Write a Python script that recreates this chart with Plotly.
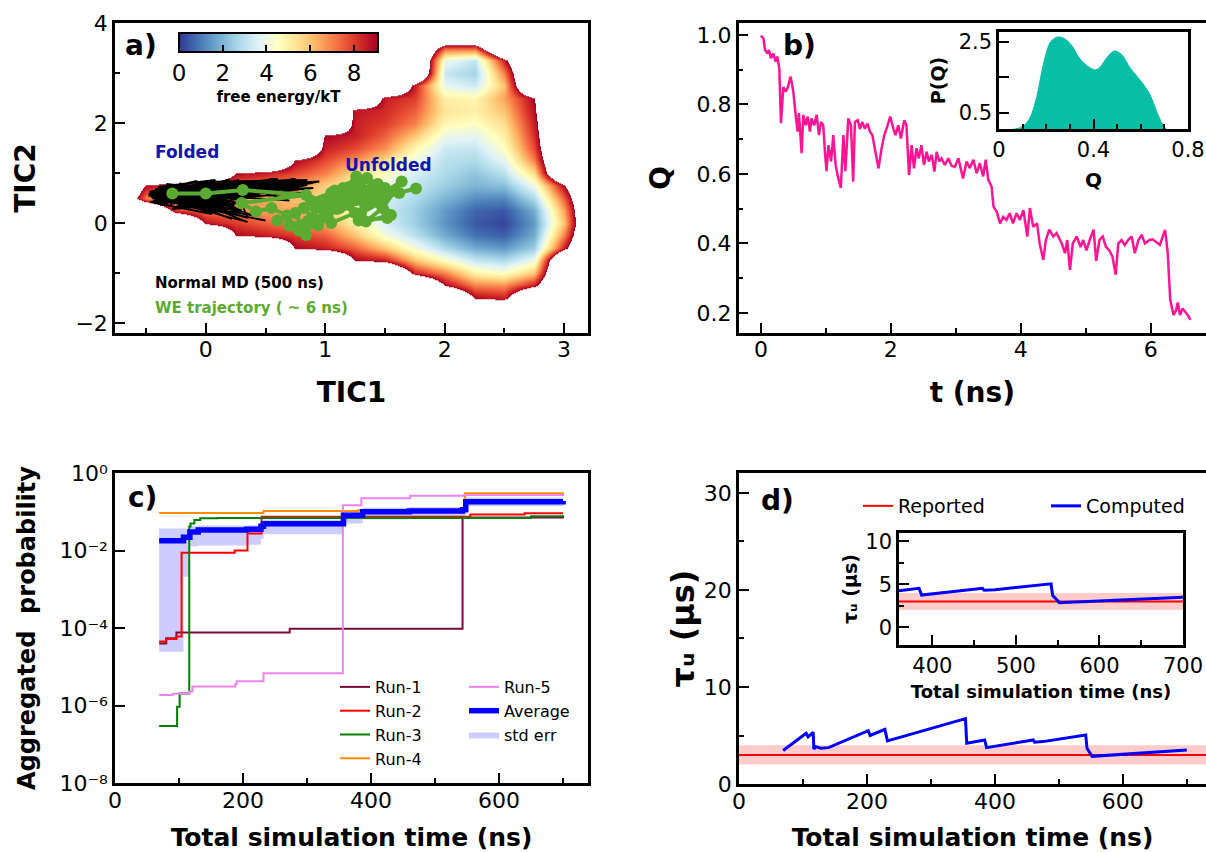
import plotly.graph_objects as go

W, H = 1206, 852
FONT = "DejaVu Sans"

# ---------------- panel a: free-energy landscape (kT) -------------
N = None
fe_x = [-0.75, -0.5, -0.25, 0, 0.25, 0.5, 0.75, 1.0, 1.25, 1.5, 1.75, 2.0, 2.25, 2.5, 2.75, 3.0, 3.25]
fe_y_desc = [3.75, 3.5, 3.25, 3.0, 2.75, 2.5, 2.25, 2.0, 1.75, 1.5, 1.25, 1.0, 0.75, 0.5,
             0.25, 0.0, -0.25, -0.5, -0.75, -1.0, -1.25, -1.5, -1.75]
fe_rows = [
    [N]*17,
    [N, N, N, N, N, N, N, N, N, N, N, 7.5, 7.5, N, N, N, N],
    [N, N, N, N, N, N, N, N, N, N, N, 4.0, 3.2, 8.5, N, N, N],
    [N, N, N, N, N, N, N, N, N, N, N, 3.2, 2.6, 7.0, N, N, N],
    [N, N, N, N, N, N, N, N, N, N, 8.5, 3.8, 3.3, 6.0, N, N, N],
    [N, N, N, N, N, N, N, N, N, 8.5, 8.0, 5.0, 4.8, 6.5, 9.0, N, N],
    [N, N, N, N, N, N, N, N, 8.7, 8.3, 7.5, 5.3, 5.0, 6.0, 8.8, N, N],
    [N, N, N, N, N, N, N, N, 8.5, 8.0, 7.0, 4.8, 4.5, 5.5, 8.5, N, N],
    [N, N, N, N, N, N, N, 9.0, 8.5, 7.5, 6.0, 4.0, 3.8, 5.0, 8.2, N, N],
    [N, N, N, N, N, N, N, 8.5, 7.8, 6.8, 4.8, 3.3, 3.2, 4.5, 7.8, N, N],
    [N, N, N, N, N, N, 9.0, 7.8, 6.8, 5.5, 4.0, 3.0, 2.8, 3.8, 7.0, N, N],
    [N, N, N, N, 9.0, 8.5, 7.8, 7.0, 5.5, 4.5, 3.5, 2.8, 2.3, 3.0, 5.5, N, N],
    [N, 9.0, 8.2, 7.8, 7.3, 7.2, 6.8, 5.8, 5.0, 4.0, 3.2, 2.5, 2.0, 2.2, 4.0, 9.0, N],
    [N, 7.0, 6.0, 6.5, 6.5, 6.5, 6.0, 5.5, 4.5, 3.5, 2.8, 2.0, 1.3, 1.2, 2.8, 7.5, N],
    [N, N, 8.0, 7.2, 7.0, 6.5, 6.5, 5.8, 4.5, 3.3, 2.5, 1.5, 0.7, 0.5, 1.8, 6.5, N],
    [N, N, N, 8.8, 8.0, 7.5, 7.0, 6.5, 5.0, 3.5, 2.5, 1.4, 0.5, 0.2, 1.5, 6.0, N],
    [N, N, N, N, 9.0, 8.5, 8.0, 7.5, 6.0, 4.2, 3.0, 1.8, 0.9, 0.6, 1.8, 7.0, N],
    [N, N, N, N, N, N, 9.0, 8.5, 7.5, 6.0, 4.2, 2.8, 1.8, 1.5, 2.5, 8.5, N],
    [N, N, N, N, N, N, N, N, 9.0, 8.5, 6.0, 4.5, 3.2, 2.8, 4.0, N, N],
    [N, N, N, N, N, N, N, N, N, N, 8.5, 7.0, 5.0, 4.5, 6.0, N, N],
    [N, N, N, N, N, N, N, N, N, N, N, 9.0, 7.0, 6.8, 8.5, N, N],
    [N, N, N, N, N, N, N, N, N, N, N, N, 9.0, 8.5, N, N, N],
    [N]*17,
]
fe_max = 9.1

md_x = [-0.45, -0.2, -0.38, 0.05, -0.3, 0.2, -0.42, 0.1, -0.25, 0.35, -0.35, 0.0, -0.48, 0.15, -0.1,
        0.45, -0.3, 0.3, -0.2, 0.6, -0.4, 0.25, -0.15, 0.75, -0.05, 0.5, -0.45, 0.2, 0.0, 0.9, 0.1,
        -0.35, 0.4, -0.2, 0.65, -0.38, 0.3, -0.28, 0.05, 0.8, -0.1, 0.35, -0.45, 0.15, -0.3, 0.55,
        0.0, 0.3, -0.4, 0.1, 0.45, -0.15, 0.2, 0.7, -0.25, 0.05, -0.46, 0.25, 0.35, -0.3,
        -0.47, -0.1, -0.4, 0.12, -0.33, 0.28, -0.44, -0.05, -0.22, 0.18, -0.36, 0.08, -0.15, 0.42,
        -0.48, 0.0, -0.27, 0.22, -0.39, 0.85, -0.12, 0.05, -0.43, 0.3, -0.2, 0.65, -0.34, 0.1, -0.47,
        -0.08, 0.25, -0.3, 0.15, -0.42, 0.32, -0.18, 0.55, -0.37, 0.02, -0.25,
        -0.44, 0.6, -0.3, 0.9, -0.2, 0.05, -0.46, 0.5, -0.1, 0.75, -0.35, 0.2, -0.25, 0.62, -0.42,
        0.12, -0.05, 0.85, -0.38, 0.28, -0.15, 0.7, -0.45, 0.18, 0.4, -0.3, 0.95, -0.22, 0.08, -0.4,
        0.33, -0.12, 0.58, -0.36, 0.22, -0.28, 0.48, -0.47, 0.1, -0.2]
md_y = [0.50, 0.62, 0.35, 0.70, 0.55, 0.45, 0.60, 0.80, 0.30, 0.65, 0.48, 0.25, 0.55, 0.72, 0.40,
        0.78, 0.68, 0.20, 0.58, 0.85, 0.40, 0.55, 0.75, 0.80, 0.30, 0.05, 0.50, 0.35, 0.62, 0.70,
        0.50, 0.45, 0.15, 0.65, 0.82, 0.58, 0.40, 0.28, 0.72, 0.60, 0.45, 0.02, 0.52, 0.60, 0.38,
        0.75, 0.55, 0.25, 0.48, 0.68, 0.55, 0.32, 0.80, 0.45, 0.60, 0.18, 0.42, 0.70, 0.10, 0.52,
        0.56, 0.72, 0.66, 0.52, 0.78, 0.62, 0.44, 0.56, 0.80, 0.40, 0.64, 0.82, 0.48, 0.68, 0.58,
        0.36, 0.74, 0.50, 0.70, 0.76, 0.38, 0.66, 0.60, 0.78, 0.46, 0.72, 0.54, 0.42, 0.62, 0.84,
        0.30, 0.68, 0.56, 0.50, 0.74, 0.58, 0.80, 0.46, 0.64, 0.70,
        0.62, 0.88, 0.50, 0.80, 0.70, 0.86, 0.52, 0.84, 0.64, 0.88, 0.42, 0.88, 0.56, 0.76, 0.68,
        0.30, 0.82, 0.86, 0.46, 0.86, 0.62, 0.84, 0.58, 0.26, 0.70, 0.66, 0.83, 0.40, 0.86, 0.72,
        0.80, 0.52, 0.88, 0.62, 0.08, 0.48, 0.82, 0.60, 0.76, 0.66]

we_x = [-0.28, 0.0, 0.31, 0.84, 0.30, 0.42, 0.55, 0.68, 0.60, 0.75, 0.84, 0.70, 0.90, 0.82, 1.00,
        0.95, 1.10, 0.88, 1.05, 1.20, 1.00, 1.15, 1.30, 1.12, 1.25, 1.40, 1.22, 1.35, 1.50, 1.30,
        1.46, 1.26, 1.40, 1.55, 1.34, 1.48, 1.64, 1.45, 1.58, 1.62, 1.40, 1.52, 1.28, 1.18, 1.36,
        1.08, 0.98, 1.22, 1.44, 1.30, 1.12, 0.92, 1.05, 1.25, 1.15, 1.38, 1.50, 1.20, 1.02, 0.86,
        0.78, 0.94, 1.10, 1.32, 1.76]
we_y = [0.59, 0.59, 0.66, 0.56, 0.40, 0.23, 0.30, 0.15, 0.05, 0.20, -0.24, -0.05, 0.10, 0.30, 0.25,
        0.05, 0.35, 0.45, 0.60, 0.40, 0.15, 0.70, 0.55, 0.30, 0.80, 0.60, 0.50, 0.90, 0.70, 0.20,
        0.40, 0.93, 0.75, 0.16, 0.03, 0.30, 0.83, 0.55, 0.65, 0.60, 0.45, 0.10, 0.05, 0.50, 0.38,
        0.65, 0.45, 0.62, 0.78, 0.85, 0.55, 0.30, 0.00, 0.20, 0.35, 0.50, 0.55, 0.72, 0.12, 0.05,
        -0.15, -0.05, 0.28, 0.42, 0.69]

# ---------------- panel b: Q(t) and P(Q) ----------------
t_ns = [0.00, 0.04, 0.063, 0.104, 0.124, 0.155, 0.19, 0.227, 0.253, 0.283, 0.309, 0.345, 0.38, 0.41,
        0.458, 0.499, 0.535, 0.565, 0.585, 0.627, 0.652, 0.688, 0.72, 0.755, 0.78, 0.82, 0.858, 0.893,
        0.925, 0.96, 0.985, 1.01, 1.04, 1.08, 1.114, 1.15, 1.19, 1.23, 1.27, 1.30, 1.345, 1.386, 1.42,
        1.447, 1.49, 1.525, 1.56, 1.60, 1.64, 1.678, 1.715, 1.756, 1.81, 1.858, 1.90, 1.95, 1.99, 2.04,
        2.07, 2.114, 2.155, 2.206, 2.24, 2.28, 2.32, 2.355, 2.395, 2.43, 2.47, 2.51, 2.55, 2.585, 2.63,
        2.67, 2.705, 2.745, 2.78, 2.83, 2.885, 2.935, 2.986, 3.04, 3.11, 3.165, 3.216, 3.27, 3.32, 3.37,
        3.42, 3.46, 3.50, 3.55, 3.58, 3.63, 3.68, 3.73, 3.78, 3.83, 3.88, 3.935, 3.986, 4.04, 4.10,
        4.14, 4.19, 4.25, 4.29, 4.345, 4.386, 4.437, 4.50, 4.55, 4.63, 4.68, 4.715, 4.756, 4.80, 4.86,
        4.92, 4.96, 5.01, 5.06, 5.12, 5.16, 5.21, 5.26, 5.31, 5.36, 5.41, 5.46, 5.50, 5.55, 5.60, 5.65,
        5.705, 5.755, 5.81, 5.86, 5.91, 5.98, 6.03, 6.14, 6.22, 6.26, 6.30, 6.35, 6.39, 6.415, 6.45,
        6.49, 6.53, 6.57, 6.61]
q_val = [0.998, 0.99, 0.957, 0.947, 0.957, 0.933, 0.947, 0.923, 0.938, 0.904, 0.746, 0.85, 0.837, 0.847,
         0.88, 0.837, 0.77, 0.722, 0.775, 0.66, 0.77, 0.74, 0.765, 0.722, 0.76, 0.74, 0.77, 0.712,
         0.75, 0.74, 0.665, 0.608, 0.683, 0.636, 0.712, 0.626, 0.588, 0.56, 0.712, 0.608, 0.76, 0.74, 0.578,
         0.75, 0.755, 0.73, 0.75, 0.73, 0.745, 0.722, 0.712, 0.674, 0.616, 0.674, 0.712, 0.74, 0.765, 0.73,
         0.712, 0.74, 0.702, 0.755, 0.74, 0.597, 0.683, 0.616, 0.674, 0.645, 0.683, 0.626, 0.664, 0.636, 0.655,
         0.607, 0.664, 0.636, 0.645, 0.626, 0.645, 0.623, 0.621, 0.645, 0.587, 0.636, 0.617, 0.641, 0.602, 0.631,
         0.593, 0.641, 0.583, 0.564, 0.506, 0.491, 0.458, 0.477, 0.468, 0.487, 0.458, 0.487, 0.468, 0.496, 0.42,
         0.502, 0.448, 0.458, 0.40, 0.353, 0.41, 0.44, 0.42, 0.43, 0.40, 0.372, 0.41, 0.324, 0.40, 0.42,
         0.39, 0.41, 0.38, 0.41, 0.44, 0.35, 0.41, 0.42, 0.39, 0.38, 0.363, 0.31, 0.40, 0.41, 0.395, 0.41,
         0.42, 0.372, 0.41, 0.425, 0.40, 0.41, 0.412, 0.396, 0.439, 0.375, 0.237, 0.194, 0.208, 0.23, 0.194,
         0.213, 0.203, 0.194, 0.18]

pq_q = [0.03, 0.06, 0.10, 0.13, 0.16, 0.18, 0.20, 0.22, 0.25, 0.28, 0.31, 0.34, 0.38, 0.41, 0.43, 0.46,
        0.49, 0.52, 0.555, 0.585, 0.61, 0.64, 0.665, 0.69, 0.71, 0.73]
pq_p = [0.0, 0.04, 0.12, 0.35, 0.96, 1.62, 2.18, 2.51, 2.63, 2.57, 2.37, 2.04, 1.79, 1.71, 1.80, 2.08,
        2.24, 2.13, 1.76, 1.52, 1.31, 1.0, 0.58, 0.21, 0.04, 0.0]

# ---------------- panel c: aggregated probability ----------------
run1_t = [69, 80, 96, 273, 543, 700]
run1_p = [4.0e-5, 5.4e-5, 7.6e-5, 9.5e-5, 7.1e-2, 7.9e-2]
run2_t = [69, 80, 96, 104, 187, 207, 229, 555, 640, 700]
run2_p = [4.5e-5, 5.2e-5, 6.0e-5, 8.7e-3, 1.0e-2, 2.75e-2, 7.4e-2, 8.5e-2, 9.1e-2, 9.1e-2]
run3_t = [69, 97, 101, 116, 118, 124, 133, 160, 650, 700]
run3_p = [2.95e-7, 9.3e-7, 2.04e-6, 4.17e-2, 5.0e-2, 6.17e-2, 6.76e-2, 6.9e-2, 7.6e-2, 8.1e-2]
run4_t = [69, 232, 380, 547, 700]
run4_p = [9.3e-2, 1.05e-1, 1.1e-1, 3.0e-1, 3.16e-1]
run5_t = [69, 90, 116, 121, 188, 190, 232, 356, 385, 461, 545, 700]
run5_p = [1.86e-6, 2.0e-6, 2.3e-6, 3.1e-6, 3.6e-6, 4.2e-6, 6.8e-6, 1.48e-1, 2.24e-1, 2.57e-1, 2.69e-1, 2.82e-1]
avg_t = [69, 107, 117, 130, 206, 228, 232, 357, 387, 460, 543, 548, 700]
avg_p = [1.78e-2, 2.19e-2, 3.0e-2, 3.4e-2, 3.55e-2, 4.2e-2, 4.9e-2, 8.1e-2, 1.0e-1, 1.05e-1, 1.12e-1, 1.82e-1, 1.9e-1]
err_hi = [3.7e-2, 3.7e-2, 4.2e-2, 4.4e-2, 4.5e-2, 5.6e-2, 6.3e-2, 1.07e-1, 1.26e-1, 1.32e-1, 1.41e-1, 2.34e-1, 2.4e-1]
err_lo = [2.45e-5, 2.1e-3, 1.26e-2, 1.35e-2, 1.41e-2, 2.0e-2, 2.63e-2, 5.0e-2, 6.3e-2, 6.6e-2, 7.1e-2, 1.38e-1, 1.41e-1]
c_ticks = [1e-8, 1e-6, 1e-4, 1e-2, 1]
c_ticktext = ["10\u207b\u2078", "10\u207b\u2076", "10\u207b\u2074", "10\u207b\u00b2", "10\u2070"]

# ---------------- panel d: unfolding time ----------------
comp_t = [69, 105, 108, 116, 117, 120, 128, 140, 202, 205, 228, 232, 354, 356, 384, 387, 460, 462,
          475, 542, 544, 547, 552, 700]
comp_tau = [3.45, 5.23, 4.85, 5.33, 3.6, 3.85, 3.68, 3.75, 5.5, 5.0, 5.64, 4.44, 6.74, 4.2, 4.54, 3.75,
            4.54, 4.3, 4.37, 5.06, 3.68, 3.4, 2.85, 3.5]
reported_tau = 3.0
reported_err = 1.0
TAU_LABEL = "\u03c4\u1d64 (\u03bcs)"

# ---------------- helpers ----------------
def px(x):
    return x / W

def py(y):
    return 1 - y / H

def axis(title, tsize, standoff, **kw):
    base = dict(showline=True, linecolor="black", linewidth=2.5, mirror=True, ticks="inside",
                ticklen=10, tickwidth=1.8, tickcolor="black", showgrid=False, zeroline=False,
                tickfont=dict(size=22, family=FONT, color="black"), layer="above traces",
                title=dict(text="<b>%s</b>" % title, standoff=standoff,
                           font=dict(size=tsize, family=FONT, color="black")))
    base.update(kw)
    return base

def minor(d, t0=0, ln=5):
    return dict(ticks="inside", ticklen=ln, tickwidth=1.5, tickcolor="black", dtick=d, tick0=t0, showgrid=False)

rdylbu_r = ["rgb(49,54,149)", "rgb(69,117,180)", "rgb(116,173,209)", "rgb(171,217,233)",
            "rgb(224,243,248)", "rgb(255,255,191)", "rgb(254,224,144)", "rgb(253,174,97)",
            "rgb(244,109,67)", "rgb(215,48,39)", "rgb(165,0,38)"]
OUT = 14.0
frac = fe_max / OUT
cs_map = [[i / 10 * frac, c] for i, c in enumerate(rdylbu_r)] + [[frac + 1e-4, "white"], [1, "white"]]
cs_bar = [[i / 10, c] for i, c in enumerate(rdylbu_r)]

fe_y = fe_y_desc[::-1]
fe_z = [[(OUT if v is None else v) for v in row] for row in fe_rows[::-1]]

fig = go.Figure()

# panel a
fig.add_trace(go.Heatmap(x=fe_x, y=fe_y, z=fe_z, zsmooth="best", colorscale=cs_map, zmin=0, zmax=OUT,
                         showscale=False, hoverinfo="skip", xaxis="x", yaxis="y"))
fig.add_trace(go.Scatter(x=[-5], y=[-5], mode="markers", xaxis="x", yaxis="y", showlegend=False,
                         hoverinfo="skip",
                         marker=dict(size=1, color=[0], colorscale=cs_bar, cmin=0, cmax=fe_max, showscale=True,
                                     colorbar=dict(orientation="h", x=px(278.5), xanchor="center",
                                                   y=py(33), yanchor="top", len=199 / W, lenmode="fraction",
                                                   thickness=19, thicknessmode="pixels", xpad=0, ypad=0,
                                                   outlinewidth=2, outlinecolor="black",
                                                   ticks="inside", ticklen=8, tickwidth=1.5, tickcolor="black",
                                                   tickvals=[0, 2, 4, 6, 8],
                                                   tickfont=dict(size=23, family=FONT, color="black"),
                                                   title=dict(text="<b>free energy/kT</b>", side="bottom",
                                                              font=dict(size=15, family=FONT, color="black"))))))
fig.add_trace(go.Scatter(x=md_x, y=md_y, mode="lines", line=dict(color="black", width=1.8),
                         xaxis="x", yaxis="y", showlegend=False))
fig.add_trace(go.Scatter(x=we_x, y=we_y, mode="lines+markers", line=dict(color="#5bab32", width=4),
                         marker=dict(size=12, color="#5bab32"), xaxis="x", yaxis="y", showlegend=False))

# panel b
fig.add_trace(go.Scatter(x=t_ns, y=q_val, mode="lines", line=dict(color="#ff1493", width=2.5),
                         xaxis="x2", yaxis="y2", showlegend=False))
fig.add_trace(go.Scatter(x=pq_q, y=pq_p, mode="lines", fill="tozeroy", fillcolor="#08bfa6",
                         line=dict(color="#08bfa6", width=1, shape="spline"),
                         xaxis="x3", yaxis="y3", showlegend=False))

# panel c
fig.add_trace(go.Scatter(x=avg_t, y=err_lo, mode="lines", line=dict(width=0, shape="hv"),
                         xaxis="x4", yaxis="y4", showlegend=False, hoverinfo="skip"))
fig.add_trace(go.Scatter(x=avg_t, y=err_hi, mode="lines", line=dict(width=0, shape="hv"), fill="tonexty",
                         fillcolor="rgba(0,0,255,0.2)", name="std err", legend="legend2", legendrank=3,
                         xaxis="x4", yaxis="y4"))
runs = [(run1_t, run1_p, "Run-1", "#7a0a3c", "legend", 1),
        (run2_t, run2_p, "Run-2", "#ff0000", "legend", 2),
        (run3_t, run3_p, "Run-3", "#008000", "legend", 3),
        (run4_t, run4_p, "Run-4", "#ff8c00", "legend", 4),
        (run5_t, run5_p, "Run-5", "#ee82ee", "legend2", 1)]
for tx, pv, nm, col, lg, rk in runs:
    fig.add_trace(go.Scatter(x=tx, y=pv, mode="lines", line=dict(color=col, width=2, shape="hv"), name=nm,
                             legend=lg, legendrank=rk, xaxis="x4", yaxis="y4"))
fig.add_trace(go.Scatter(x=avg_t, y=avg_p, mode="lines", line=dict(color="#0000ff", width=5.5, shape="hv"),
                         name="Average", legend="legend2", legendrank=2, xaxis="x4", yaxis="y4"))

# panel d
d_xrange = [0, 730]
in_xrange = [360, 700]
for xa, ya, xr, leg in [("x5", "y5", d_xrange, True), ("x6", "y6", in_xrange, False)]:
    fig.add_trace(go.Scatter(x=xr, y=[reported_tau - reported_err] * 2, mode="lines", line=dict(width=0),
                             xaxis=xa, yaxis=ya, showlegend=False, hoverinfo="skip"))
    fig.add_trace(go.Scatter(x=xr, y=[reported_tau + reported_err] * 2, mode="lines", line=dict(width=0),
                             fill="tonexty", fillcolor="rgba(255,0,0,0.2)", xaxis=xa, yaxis=ya,
                             showlegend=False, hoverinfo="skip"))
    fig.add_trace(go.Scatter(x=xr, y=[reported_tau] * 2, mode="lines", line=dict(color="#ff0000", width=2),
                             name="Reported", legend="legend3", showlegend=leg, xaxis=xa, yaxis=ya))
    fig.add_trace(go.Scatter(x=comp_t, y=comp_tau, mode="lines", line=dict(color="#0000ff", width=3),
                             name="Computed", legend="legend4", showlegend=leg, xaxis=xa, yaxis=ya))

# ---------------- layout ----------------
lay = dict(width=W, height=H, margin=dict(l=0, r=0, t=0, b=0, autoexpand=False),
           paper_bgcolor="white", plot_bgcolor="white", font=dict(family=FONT, color="black"))

f21 = dict(size=21, family=FONT, color="black")
lay["xaxis"] = axis("TIC1", 28, 22, domain=[px(115), px(588)], range=[-0.76, 3.2], dtick=1, tick0=0,
                    minor=minor(0.5), anchor="y", ticklabelstandoff=-5)
lay["yaxis"] = axis("TIC2", 28, 32, domain=[py(333), py(23)], range=[-2.2, 4.0], dtick=2, tick0=0,
                    minor=minor(1), anchor="x")
lay["xaxis2"] = axis("t (ns)", 28, 22, domain=[px(738.6), 1.0], range=[-0.343, 6.85], dtick=2, tick0=0,
                     minor=minor(1), anchor="y2", ticklabelstandoff=-5)
lay["yaxis2"] = axis("Q", 28, 18, domain=[py(333), py(23)], range=[0.1424, 1.0345], dtick=0.2, tick0=0,
                     tickformat=".1f", minor=minor(0.1), anchor="x2")
lay["xaxis3"] = axis("Q", 20, 13, domain=[px(999), px(1188)], range=[0, 0.8], tickvals=[0, 0.4, 0.8],
                     ticktext=["0", "0.4", "0.8"], minor=minor(0.1), anchor="y3", tickfont=f21)
lay["yaxis3"] = axis("P(Q)", 19, 8, domain=[py(129), py(32)], range=[0.05, 2.77], tickvals=[0.5, 2.5],
                     ticktext=["0.5", "2.5"], minor=dict(minor(1, 0.5, 10), tickvals=[1.5]), anchor="x3",
                     tickfont=f21)
lay["xaxis4"] = axis("Total simulation time (ns)", 25, 24, domain=[px(115), px(588)], range=[0, 739],
                     dtick=200, tick0=0, minor=minor(100), anchor="y4", ticklabelstandoff=-4)
lay["yaxis4"] = axis("Aggregated\u00a0 probability", 24, 18, domain=[py(783), py(473)], type="log",
                     range=[-8, 0], tickvals=c_ticks, ticktext=c_ticktext, anchor="x4")
lay["xaxis5"] = axis("Total simulation time (ns)", 25, 24, domain=[px(739), 1.0], range=d_xrange,
                     dtick=200, tick0=0, minor=minor(100), anchor="y5", ticklabelstandoff=-4)
lay["yaxis5"] = axis(TAU_LABEL, 32, 0, domain=[py(784), py(473)], range=[0, 32.06], dtick=10,
                     tick0=0, minor=minor(5), anchor="x5")
lay["xaxis6"] = axis("Total simulation time (ns)", 18, 9, domain=[px(899), px(1183)], range=in_xrange,
                     dtick=100, tick0=0, minor=minor(50), anchor="y6", tickfont=f21)
lay["yaxis6"] = axis(TAU_LABEL, 19, 3, domain=[py(645), py(533)], range=[-2.07, 10.98], dtick=5,
                     tick0=0, minor=minor(2.5), anchor="x6", tickfont=f21)

leg_common = dict(bgcolor="rgba(0,0,0,0)", borderwidth=0, xanchor="left", yanchor="top",
                  orientation="v", tracegroupgap=0, traceorder="normal",
                  itemclick=False, itemdoubleclick=False)
lay["legend"] = dict(leg_common, x=px(335), y=py(670), font=dict(size=16, family=FONT, color="black"))
lay["legend2"] = dict(leg_common, x=px(464), y=py(670), font=dict(size=16, family=FONT, color="black"))
lay["legend3"] = dict(leg_common, x=px(858), y=py(487), font=dict(size=19, family=FONT, color="black"))
lay["legend4"] = dict(leg_common, x=px(1046), y=py(487), font=dict(size=19, family=FONT, color="black"))

anns = []
def ann(text, x, y, size, color="black", xanchor="center"):
    anns.append(dict(text=text, x=px(x), y=py(y), xref="paper", yref="paper", showarrow=False,
                     xanchor=xanchor, yanchor="middle", font=dict(size=size, family=FONT, color=color)))

ann("<b>a)</b>", 141, 45, 28)
ann("<b>b)</b>", 799, 45, 28)
ann("<b>c)</b>", 142, 497, 28)
ann("<b>d)</b>", 777, 500, 28)
ann("<b>Folded</b>", 187, 152, 17, color="#1515a8")
ann("<b>Unfolded</b>", 389, 165, 17, color="#1515a8")
ann("<b>Normal MD (500 ns)</b>", 153, 283, 15, xanchor="left")
ann("<b>WE trajectory ( ~ 6 ns)</b>", 153, 308, 15, color="#5bab32", xanchor="left")
lay["annotations"] = anns

fig.update_layout(**lay)
fig.write_html("out.html", config={"displayModeBar": False},
               post_script="document.body.style.margin='0px';")
